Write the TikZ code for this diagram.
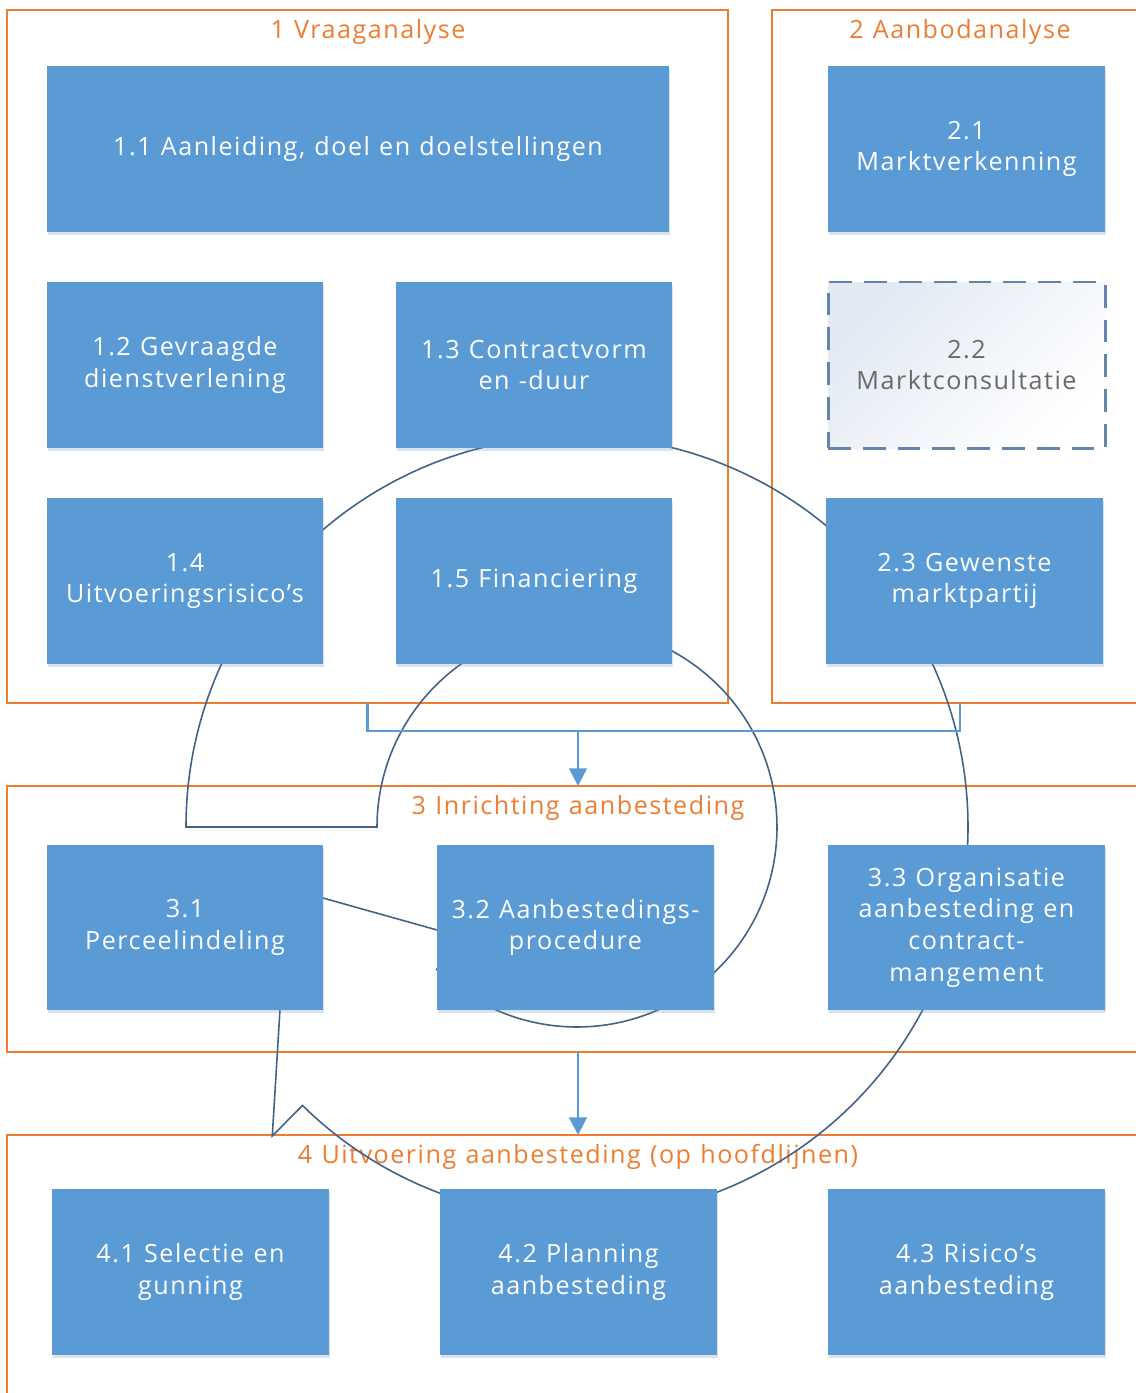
\documentclass[tikz,border=0pt]{standalone}
\usepackage{fontspec}
\setmainfont[LetterSpace=6,WordSpace=1.15]{Open Sans}
\usetikzlibrary{calc,arrows.meta,shadows}
\definecolor{org}{RGB}{237,125,49}
\definecolor{boxblue}{RGB}{91,155,213}
\definecolor{ringc}{RGB}{66,98,136}
\definecolor{dashc}{RGB}{100,133,170}
\definecolor{ltxt}{RGB}{105,105,105}
\definecolor{shadefill}{RGB}{226,233,243}
\newcommand\placebox[7]{\node[#7, minimum width={(#4-#2)*0.02cm}, minimum height={(#5-#3)*0.02cm}] (#1) at ({(#2+#4)/2},{(#3+#5)/2}) {#6};}
\begin{document}
\begin{tikzpicture}[x=0.02cm,y=-0.02cm,
  every node/.style={font=\fontsize{14.3}{18.1}\selectfont, align=center, inner sep=0pt, outer sep=0pt},
  cont/.style={draw=org, line width=1pt, rectangle},
  ttl/.style={text=org},
  blk/.style={rectangle, fill=boxblue, text=white, drop shadow={shadow xshift=0.8pt, shadow yshift=-1.8pt, opacity=0.25, fill=boxblue!70!gray}},
  dashbox/.style={rectangle, draw=dashc, line width=1.7pt, dash pattern=on 13pt off 6.8pt, top color=shadefill, bottom color=white, shading angle=45, text=ltxt},
  ring/.style={draw=ringc, line width=0.9pt, line join=miter},
  flow/.style={draw=boxblue, line width=1.4pt},
  tip/.style={-{Triangle[length=10pt,width=10pt]}},
]
\clip (0,0) rectangle (1136,1393);
\fill[white] (0,0) rectangle (1136,1393);
% containers
\placebox{c1}{7}{10}{728}{703}{}{cont}
\placebox{c2}{772}{10}{1148}{703}{}{cont}
\placebox{c3}{7}{786}{1149}{1052}{}{cont}
\placebox{c4}{7}{1135}{1149}{1420}{}{cont}
% titles
\node[ttl] (t1) at (368,32) {1 Vraaganalyse};
\node[ttl] (t2) at (960,32) {2 Aanbodanalyse};
\node[ttl] (t3) at (578,808) {3 Inrichting aanbesteding};
\node[ttl] (t4) at (578,1157) {4 Uitvoering aanbesteding (op hoofdlijnen)};
% circular arrow outline
\coordinate (C) at (577,827);
\draw[ring] (C) ++(-180:391) arc[start angle=-180, end angle=134.6, radius=391]
  -- ($(C)+(134.6:434)$) -- ($(C)+(168.1:296)$) -- ($(C)+(134.6:156.5)$)
  -- ($(C)+(134.6:200)$) arc[start angle=134.6, end angle=-180, radius=200] -- cycle;
% flow connectors
\coordinate (J) at (578,731);
\draw[flow] (c1.south) -- (c1.south |- J) -| (c2.south);
\draw[flow,tip] (J) -- (c3.north);
\draw[flow,tip] (c3.south) -- (c4.north);
% boxes
\placebox{b11}{47}{66}{669}{232}{1.1 Aanleiding, doel en doelstellingen}{blk}
\placebox{b21}{828}{66}{1105}{232}{2.1\\Marktverkenning}{blk}
\placebox{b12}{47}{282}{323}{448}{1.2 Gevraagde\\dienstverlening}{blk}
\placebox{b13}{396}{282}{672}{448}{1.3 Contractvorm\\en -duur}{blk}
\placebox{b22}{828}{282}{1105}{448}{2.2\\Marktconsultatie}{dashbox}
\placebox{b14}{47}{498}{323}{664}{1.4\\Uitvoeringsrisico’s}{blk}
\placebox{b15}{396}{498}{672}{664}{1.5 Financiering}{blk}
\placebox{b23}{826}{498}{1103}{664}{2.3 Gewenste\\marktpartij}{blk}
\placebox{b31}{47}{845}{323}{1010}{3.1\\Perceelindeling}{blk}
\placebox{b32}{437}{845}{714}{1010}{3.2 Aanbestedings-\\procedure}{blk}
\placebox{b33}{828}{845}{1105}{1010}{3.3 Organisatie\\aanbesteding en\\contract-\\mangement}{blk}
\placebox{b41}{52}{1189}{329}{1355}{4.1 Selectie en\\gunning}{blk}
\placebox{b42}{440}{1189}{717}{1355}{4.2 Planning\\aanbesteding}{blk}
\placebox{b43}{828}{1189}{1105}{1355}{4.3 Risico’s\\aanbesteding}{blk}
\end{tikzpicture}
\end{document}
